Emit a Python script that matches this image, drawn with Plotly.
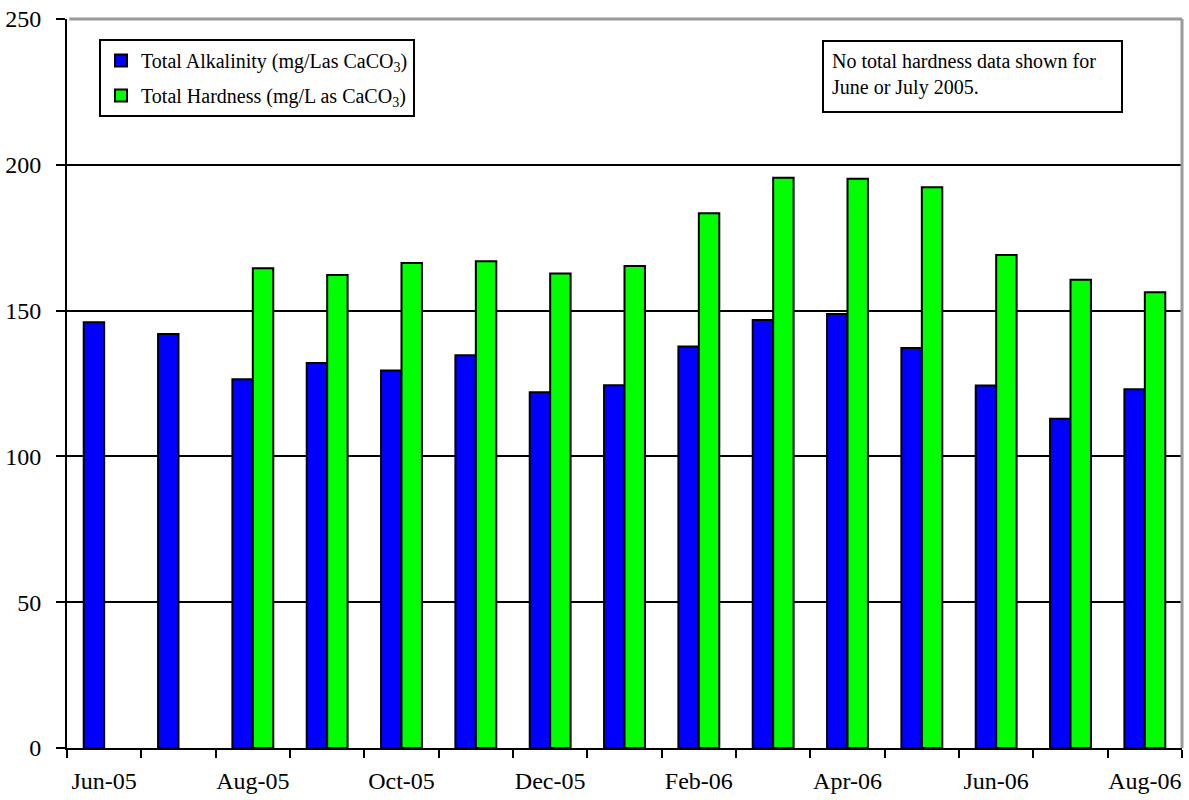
import plotly.graph_objects as go

# Monthly sampling periods
months = ["Jun-05", "Jul-05", "Aug-05", "Sep-05", "Oct-05", "Nov-05", "Dec-05",
          "Jan-06", "Feb-06", "Mar-06", "Apr-06", "May-06", "Jun-06", "Jul-06", "Aug-06"]

# Total alkalinity, mg/L as CaCO3
alkalinity = [146, 142, 126.5, 132, 129.5, 134.7, 122, 124.4, 137.7, 146.8, 148.8, 137.2, 124.3, 112.9, 123]

# Total hardness, mg/L as CaCO3 (no data for June and July 2005)
hardness = [None, None, 164.5, 162.2, 166.3, 166.9, 162.7, 165.3, 183.4, 195.6, 195.2, 192.3, 169.1, 160.6, 156.3]

y_ticks = [0, 50, 100, 150, 200, 250]

FONT = "Liberation Serif, Times New Roman, serif"

# Month positions along the x axis
pos = list(range(len(months)))

fig = go.Figure()
fig.add_trace(go.Bar(
    x=pos, y=alkalinity,
    name="Total Alkalinity (mg/Las CaCO<sub>3</sub>)",
    legendgroup="a",
    marker=dict(color="#0000FF", line=dict(color="black", width=2)),
))
fig.add_trace(go.Bar(
    x=pos, y=hardness,
    name="Total Hardness (mg/L as CaCO<sub>3</sub>)",
    legendgroup="h",
    marker=dict(color="#00FF00", line=dict(color="black", width=2)),
))

# Every other month labelled; tick marks on the boundaries between months
label_pos = pos[::2]
label_text = months[::2]
boundaries = [p - 0.5 for p in pos] + [pos[-1] + 0.5]

fig.update_layout(
    width=1189, height=800,
    margin=dict(l=67, r=7, t=19, b=52),
    paper_bgcolor="white", plot_bgcolor="white",
    barmode="group", bargap=0.45, bargroupgap=0,
    font=dict(family=FONT, color="black"),
    showlegend=True,
    legend=dict(
        x=0.0287, y=0.9726, xanchor="left", yanchor="top",
        bordercolor="black", borderwidth=2, bgcolor="white",
        font=dict(family=FONT, size=20, color="black"),
        tracegroupgap=6, traceorder="grouped",
        itemwidth=30,
    ),
    xaxis=dict(
        range=[-0.5, pos[-1] + 0.5],
        tickmode="array", tickvals=label_pos, ticktext=label_text,
        ticks="", tickangle=0, automargin=False,
        showline=True, linecolor="black", linewidth=2,
        showgrid=False, zeroline=False,
        tickfont=dict(family=FONT, size=24, color="black"),
        ticklabelstandoff=10,
        minor=dict(tickmode="array", tickvals=boundaries, ticks="outside",
                   ticklen=8, tickwidth=2, tickcolor="black", showgrid=False),
    ),
    yaxis=dict(
        range=[0, 250], tickmode="array", tickvals=y_ticks,
        ticks="outside", ticklen=9, tickwidth=2, tickcolor="black",
        showline=True, linecolor="black", linewidth=2,
        showgrid=True, gridcolor="black", gridwidth=2,
        zeroline=False, automargin=False,
        tickfont=dict(family=FONT, size=24, color="black"),
        ticklabelstandoff=10,
    ),
)

# Grey plot-area border on the top and right edges
fig.add_shape(type="line", xref="paper", yref="paper", x0=0.002, x1=1, y0=1, y1=1,
              line=dict(color="#9a9a9a", width=3), layer="above")
fig.add_shape(type="line", xref="paper", yref="paper", x0=1, x1=1, y0=0, y1=1,
              line=dict(color="#9a9a9a", width=3), layer="above")

fig.add_annotation(
    xref="paper", yref="paper", x=0.677, y=0.971, xanchor="left", yanchor="top",
    text="No total hardness data shown for<br>June or July 2005.",
    showarrow=False, align="left", valign="top",
    width=281, height=53, borderpad=8,
    bordercolor="black", borderwidth=2, bgcolor="white",
    font=dict(family=FONT, size=20, color="black"),
)

fig.write_html("out.html")
